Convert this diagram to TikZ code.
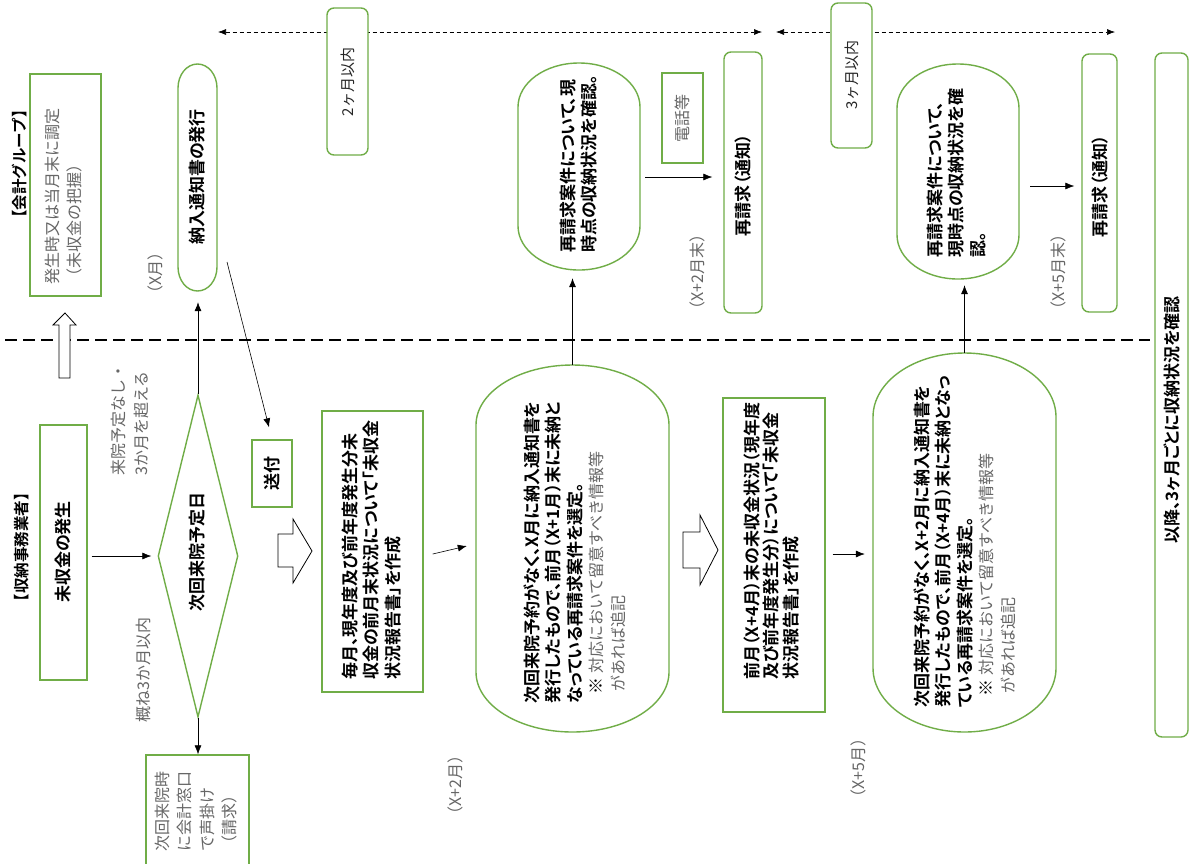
\documentclass[tikz,border=0pt]{standalone}
\usepackage{fontspec}
\usetikzlibrary{arrows.meta,shapes.geometric,calc}
\newfontfamily\jr{Noto Sans CJK JP}
\newfontfamily\jb{Noto Sans CJK JP Bold}[RawFeature=+palt]
\newfontfamily\jbf{Noto Sans CJK JP Bold}
\definecolor{gbox}{HTML}{70AD47}
\definecolor{gtext}{HTML}{666666}
\newcommand\stadium[6]{%
  \draw[gline] ({#2},{#3+#6}) arc[start angle=180,end angle=360,x radius={(#4-#2)/2},y radius=#6]
     -- ({#4},{#5-#6}) arc[start angle=0,end angle=180,x radius={(#4-#2)/2},y radius=#6] -- cycle;
  \node[inner sep=0pt, minimum width={#4-#2}, minimum height={#5-#3}] (#1) at ({(#2+#4)/2},{(#3+#5)/2}) {};
}
\newcommand\gray[1]{{\jr\fontsize{16}{21.5}\selectfont\color{gtext}#1}}
\begin{document}
\begin{tikzpicture}[x=1pt,y=-1pt,
  gb/.style={draw=gbox, line width=1.4pt, fill=white, inner sep=0pt},
  rgb/.style={gb, rounded corners=7pt},
  gline/.style={draw=gbox, line width=1.4pt, fill=white},
  arr/.style={-{Latex[length=9pt,width=7pt]}, line width=0.6pt},
  darr/.style={{Latex[length=8pt,width=6pt]}-{Latex[length=8pt,width=6pt]}, line width=0.6pt, dash pattern=on 4pt off 3pt},
  barrow/.style={draw=black, line width=0.8pt, fill=white},
  tx/.style={rotate=90, inner sep=0pt, align=left, anchor=north west},
  tc/.style={rotate=90, inner sep=0pt, anchor=center},
  bf/.style={font=\jb\fontsize{17}{21.5}\selectfont},
  bff/.style={font=\jbf\fontsize{15.5}{20}\selectfont},
  gf/.style={font=\jr\fontsize{16}{22}\selectfont, text=gtext},
  rf/.style={font=\jr\fontsize{15}{20}\selectfont, text=black!85},
]
\useasboundingbox (0,0) rectangle (1190,863);
\fill[white] (0,0) rectangle (1190,863);

% top dashed range arrows
\coordinate (d1) at (218,32); \coordinate (d2) at (762,32);
\coordinate (d3) at (776,32); \coordinate (d4) at (1115,32);
\draw[darr] (d1) -- (d2);
\draw[darr] (d3) -- (d4);

% horizontal thick dashed separator
\coordinate (h1) at (5,340); \coordinate (h2) at (1150,340);
\draw[line width=2.6pt, dash pattern=on 12pt off 6pt] (h1) -- (h2);

% ---- boxes ----
\node[gb, minimum width=71, minimum height=222] (kk) at (65.5,185) {};
\node[rgb, minimum width=41, minimum height=147] (m2) at (347.5,81.5) {};
\node[rgb, minimum width=41, minimum height=145] (m3) at (851.5,75.5) {};
\node[gb, minimum width=41, minimum height=90] (denwa) at (682.5,118) {};
\node[rgb, minimum width=38, minimum height=261] (ts1) at (743,182.5) {};
\node[rgb, minimum width=35, minimum height=258] (ts2) at (1099.5,183) {};
\node[rgb, minimum width=33, minimum height=684] (ikou) at (1171.5,395) {};
\node[gb, minimum width=47, minimum height=255] (mishu) at (63.5,552.5) {};
\node[gb, minimum width=103, minimum height=120] (koe) at (197.5,815) {};
\node[gb, minimum width=40, minimum height=67] (sofu) at (272,473.5) {};
\node[gb, minimum width=101, minimum height=281] (mai) at (372.5,551.5) {};
\node[gb, minimum width=102, minimum height=314] (zen) at (774,555) {};
\node[diamond, draw=gbox, line width=1.4pt, fill=white, inner sep=0pt, minimum width=80, minimum height=322] (dia) at (198,556) {};

\stadium{nouhin}{178}{64}{217}{291}{24}
\stadium{stA}{518}{63}{640}{270}{44}
\stadium{stB}{897}{64}{1019}{279}{44}
\stadium{stC}{476}{365}{669}{732}{60}
\stadium{stD}{873}{353}{1056}{732}{64}

% ---- block arrows ----
\draw[barrow] (59,378) -- (59,325) -- (53,325) -- (65,313) -- (76,325) -- (70,325) -- (70,378) -- cycle;
\draw[barrow] (278,534) -- (293,534) -- (293,519) -- (312,551) -- (293,583) -- (293,567) -- (278,567) -- cycle;
\draw[barrow] (683,532) -- (700,532) -- (700,515) -- (718,550) -- (700,585) -- (700,568) -- (683,568) -- cycle;

% ---- connectors ----
\draw[arr] ($(mishu.east)+(4,3.5)$) -- ($(dia.west)+(-6,0)$);
\draw[arr, shorten >=11pt] (dia.north) -- (dia.north |- nouhin.south);
\draw[arr] (dia.south) -- (dia.south |- koe.north);
\coordinate (c1) at (227,262);
\draw[arr] (c1) -- ($(sofu.north)+(-3,-12)$);
\draw[arr] ($(mai.east)+(9,2.5)$) -- ($(stC.west)+(-9,-2.5)$);
\draw[arr, shorten >=8pt] (stC.north) -- (stC.north |- stA.south);
\draw[arr] ($(stA.east)+(5,10.5)$) -- ($(ts1.west)+(-11,-5.5)$);
\draw[arr] ($(zen.east)+(7,-1)$) -- ($(stD.west)+(-8,11.5)$);
\draw[arr, shorten >=6pt] (stD.north) -- (stD.north |- stB.south);
\draw[arr] ($(stB.east)+(11,14.5)$) -- ($(ts2.west)+(-7,3)$);

% ---- texts ----
\node[tc, bff] (lk) at (20,164) {【会計グループ】};
\node[tx, gf] (tkk) at (45,285) {発生時又は当月末に調定\\（未収金の把握）};
\node[tc, bf] (tnh) at (197,177) {納入通知書の発行};
\node[tc, gf] (txm) at (155,273) {（X月）};
\node[tc, rf] (tm2) at (347.5,82) {2ヶ月以内};
\node[tc, rf] (tm3) at (851.5,75) {3ヶ月以内};
\node[tx, bf] (tA) at (559.5,253) {再請求案件について、現\\時点の収納状況を確認。};
\node[tc, gf] (tdw) at (682.5,118) {電話等};
\node[tc, gf] (tx2e) at (697,272) {（X+2月末）};
\node[tc, bf] (tts1) at (743,185) {再請求（通知）};
\node[tx, bf] (tB) at (926.5,258) {再請求案件について、\\現時点の収納状況を確\\認。};
\node[tc, gf] (tx5e) at (1058,272) {（X+5月末）};
\node[tc, bf] (tts2) at (1100,186) {再請求（通知）};
\node[tc, bf] (tik) at (1172,420) {以降、3ヶ月ごとに収納状況を確認};
\node[tc, bff] (ls) at (22,547) {【収納事務業者】};
\node[tc, bf] (tms) at (63.5,552) {未収金の発生};
\node[tx, font=\jr\fontsize{16}{23}\selectfont, text=gtext] (tnone) at (111,476) {来院予定なし・\\3か月を超える};
\node[tc, gf] (tgai) at (143,670) {概ね3か月以内};
\node[tc, bf] (tdia) at (197,552) {次回来院予定日};
\node[tx, font=\jr\fontsize{16}{22.3}\selectfont, text=gtext] (tkoe) at (155,852) {次回来院時\\に会計窓口\\で声掛け\\（請求）};
\node[tc, bf] (tsf) at (272,473) {送付};
\node[tx, bf] (tmai) at (341.5,680) {毎月、現年度及び前年度発生分未\\収金の前月末状況について「未収金\\状況報告書」を作成};
\node[tx, bf] (tC) at (523.5,704) {次回来院予約がなく、X月に納入通知書を\\発行したもので、前月（X+1月）末に未納と\\なっている再請求案件を選定。\\\hspace*{9pt}※ \gray{対応において留意すべき情報等}\\\hspace*{12pt}\gray{があれば追記}};
\node[tc, gf] (tx2) at (455,785) {（X+2月）};
\node[tx, bf, font=\jb\fontsize{17}{19.5}\selectfont] (tzen) at (743.5,680) {前月（X+4月）末の未収金状況（現年度\\及び前年度発生分）について「未収金\\状況報告書」を作成};
\node[tx, bf] (tD) at (913.5,708) {次回来院予約がなく、X+2月に納入通知書を\\発行したもので、前月（X+4月）末に未納となっ\\ている再請求案件を選定。\\\hspace*{11pt}※ \gray{対応において留意すべき情報等}\\\hspace*{14pt}\gray{があれば追記}};
\node[tc, gf] (tx5) at (858,768) {（X+5月）};
\end{tikzpicture}
\end{document}
